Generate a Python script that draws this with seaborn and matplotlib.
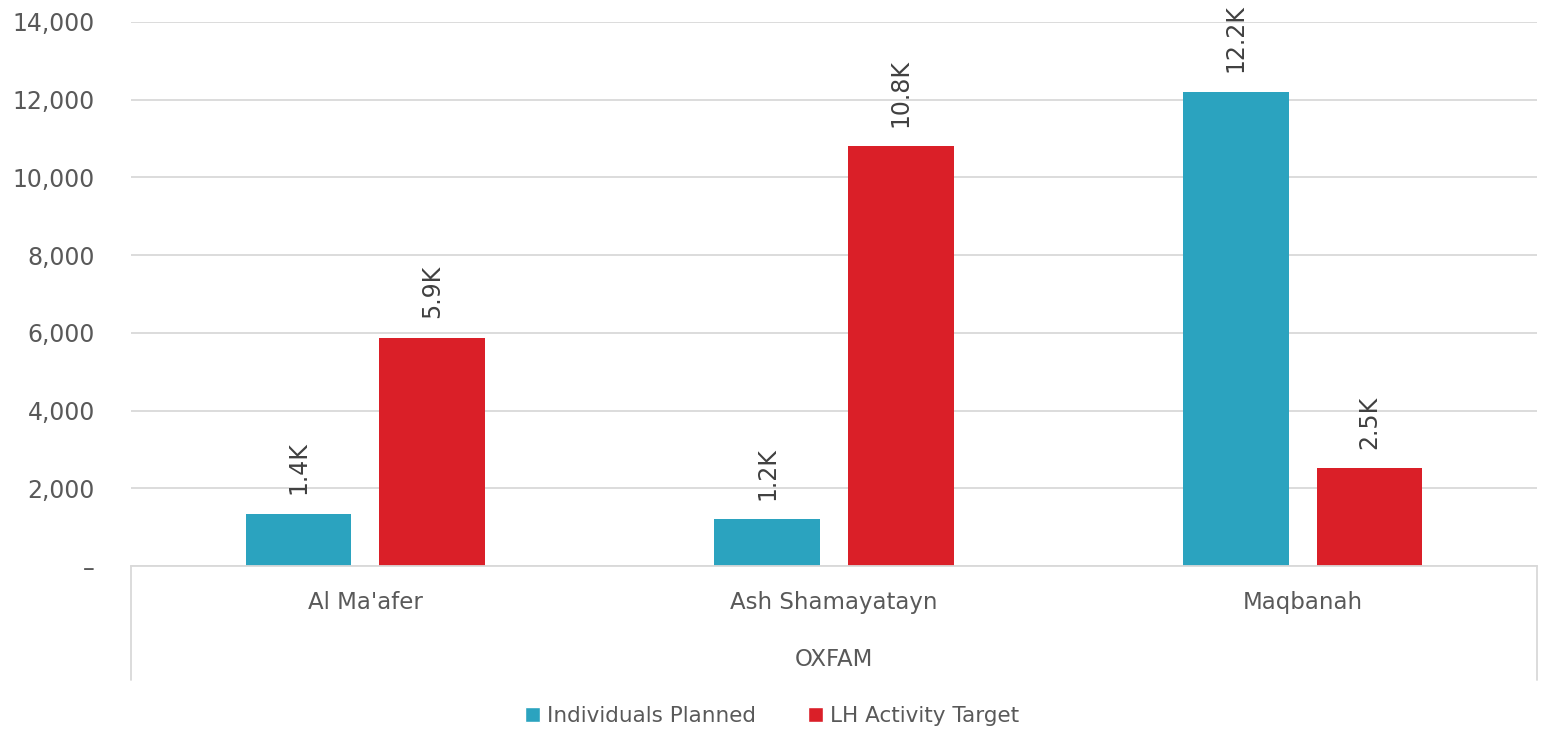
import pandas as pd
import matplotlib.pyplot as plt
import seaborn as sns
from matplotlib.patches import Patch
from matplotlib.ticker import FuncFormatter

districts = ["Al Ma'afer", "Ash Shamayatayn", "Maqbanah"]
individuals_planned = [1350, 1210, 12200]
lh_activity_target = [5870, 10810, 2520]
series_names = ["Individuals Planned", "LH Activity Target"]
series_colors = ["#2BA3BF", "#DA1F28"]
partner = "OXFAM"

df = pd.DataFrame({
    "district": districts * 2,
    "series": [series_names[0]] * 3 + [series_names[1]] * 3,
    "value": individuals_planned + lh_activity_target,
})

sns.set_theme(style="white")
plt.rcParams["font.family"] = ["DejaVu Sans"]
text_col = "#595959"
grid_col = "#D9D9D9"

fig = plt.figure(figsize=(15.44, 7.3), dpi=100)
ax = fig.add_axes([131 / 1544, 1 - 566 / 730, (1537 - 131) / 1544, 544 / 730])

sns.barplot(data=df, x="district", y="value", hue="series", order=districts,
            hue_order=series_names, palette=series_colors, width=0.57, gap=0.21,
            saturation=1, legend=False, linewidth=0, ax=ax)

ax.set_xlim(-0.5, 2.5)
ax.set_ylim(0, 14000)
ax.set_yticks(range(0, 14001, 2000))
ax.yaxis.set_major_formatter(FuncFormatter(lambda v, p: "–" if v == 0 else f"{int(v):,}"))
ax.grid(axis="y", color=grid_col, lw=1.3)
ax.set_axisbelow(True)
for s in ["top", "right", "left"]:
    ax.spines[s].set_visible(False)
ax.spines["bottom"].set_color(grid_col)
ax.spines["bottom"].set_linewidth(1.3)
ax.tick_params(axis="y", labelsize=17, colors=text_col, length=0, pad=26)
ax.tick_params(axis="x", labelsize=16.5, colors=text_col, length=0, pad=18)
ax.set_xlabel("")
ax.set_ylabel("")

for cont in ax.containers:
    labels = [f"{b.get_height() / 1000:.1f}K" for b in cont]
    ax.bar_label(cont, labels=labels, rotation=90, padding=14, fontsize=17, color="#404040")

# group box under the categories
for xf in [0, 1]:
    ax.plot([xf, xf], [0, -114 / 544], transform=ax.transAxes, color=grid_col,
            lw=1.3, clip_on=False)
ax.text(0.5, -94 / 544, partner, transform=ax.transAxes, ha="center", va="center",
        fontsize=16.5, color=text_col)

handles = [Patch(facecolor=c, label=n) for c, n in zip(series_colors, series_names)]
fig.legend(handles=handles, loc="center", bbox_to_anchor=(0.5, 1 - 716 / 730), ncol=2,
           frameon=False, fontsize=15.5, handlelength=0.7, handleheight=0.7,
           handletextpad=0.35, columnspacing=2.4, labelcolor=text_col)

fig.savefig("out.png", dpi=100)
